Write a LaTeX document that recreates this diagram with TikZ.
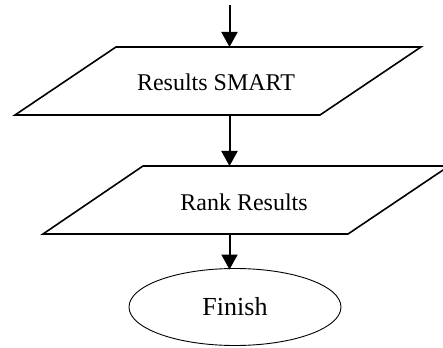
\documentclass[tikz,border=0pt]{standalone}
\usepackage{fontspec}
\setmainfont{Liberation Serif}
\usetikzlibrary{arrows.meta,shapes.geometric}
\begin{document}
\begin{tikzpicture}[x=1pt,y=-1pt,
  para/.style={draw=black,line width=1.6pt,line join=miter},
  flow/.style={draw=black,line width=2pt,-{Triangle[length=15pt,width=16pt]}},
  lbl/.style={font=\fontsize{24}{28}\selectfont,anchor=base,inner sep=0pt},
  endbox/.style={draw=black,line width=0.9pt,ellipse,minimum width=212pt,minimum height=77pt,inner sep=0pt,font=\fontsize{26}{30}\selectfont}]
\useasboundingbox (0,0) rectangle (443,347);
\clip (0,0) rectangle (443,347);
% parallelogram 1
\draw[para] (116,47) -- (421,47) -- (320,115) -- (15,115) -- cycle;
\coordinate (in1) at (229.5,47);
\coordinate (out1) at (229.5,115);
\coordinate (start) at (229.5,5);
\node[lbl] (t1) at (216,91) {Results SMART};
% parallelogram 2
\draw[para] (143,166) -- (449,166) -- (348,234) -- (43,234) -- cycle;
\coordinate (in2) at (229.5,166);
\coordinate (out2) at (229.5,234);
\node[lbl] (t2) at (244,210) {Rank Results};
% finish
\node[endbox] (fin) at (235,307) {Finish};
\coordinate (in3) at (229.5,269.5);
% arrows
\draw[flow] (start) -- (in1);
\draw[flow] (out1) -- (in2);
\draw[flow] (out2) -- (in3);
\end{tikzpicture}
\end{document}
